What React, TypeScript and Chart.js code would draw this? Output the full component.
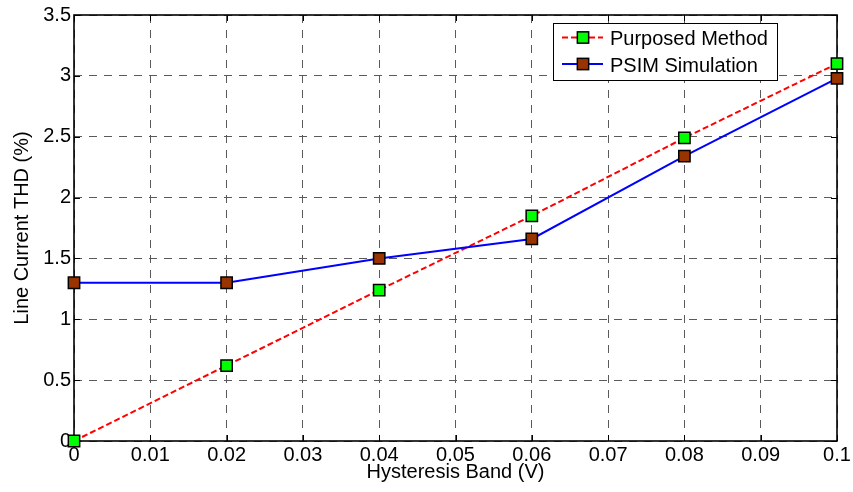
import React, { useEffect, useRef } from "react";
import { Chart, registerables } from "chart.js";

Chart.register(...registerables);

// ---- data ----
const hysteresisBand = [0, 0.02, 0.04, 0.06, 0.08, 0.1];
const purposedMethod = [0, 0.62, 1.24, 1.85, 2.49, 3.1];
const psimSimulation = [1.3, 1.3, 1.5, 1.66, 2.34, 2.98];
const seriesNames = ["Purposed Method", "PSIM Simulation"];

const xTickValues = [0, 0.01, 0.02, 0.03, 0.04, 0.05, 0.06, 0.07, 0.08, 0.09, 0.1];
const xTickLabels = ["0", "0.01", "0.02", "0.03", "0.04", "0.05", "0.06", "0.07", "0.08", "0.09", "0.1"];
const yTickValues = [0, 0.5, 1, 1.5, 2, 2.5, 3, 3.5];
const yTickLabels = ["0", "0.5", "1", "1.5", "2", "2.5", "3", "3.5"];

const xTitle = "Hysteresis Band (V)";
const yTitle = "Line Current THD (%)";

const FONT = "'Liberation Sans', Arial, Helvetica, sans-serif";

const boxPlugin = {
  id: "matlabBox",
  beforeDatasetsDraw(chart: any) {
    const { ctx, chartArea, scales } = chart;
    const { left, right, top, bottom } = chartArea;
    ctx.save();
    ctx.strokeStyle = "#000";
    ctx.lineWidth = 1;
    const L = 6;
    const line = (x1: number, y1: number, x2: number, y2: number) => {
      ctx.beginPath();
      ctx.moveTo(x1, y1);
      ctx.lineTo(x2, y2);
      ctx.stroke();
    };
    xTickValues.forEach((v) => {
      const px = Math.round(scales.x.getPixelForValue(v)) + 0.5;
      line(px, bottom, px, bottom - L);
      line(px, top, px, top + L);
    });
    yTickValues.forEach((v) => {
      const py = Math.round(scales.y.getPixelForValue(v)) + 0.5;
      line(left, py, left + L, py);
      line(right, py, right - L, py);
    });
    ctx.lineWidth = 1.6;
    ctx.strokeRect(left, top, right - left, bottom - top);
    ctx.restore();
  },
};

const legendPlugin = {
  id: "matlabLegend",
  afterDatasetsDraw(chart: any) {
    const { ctx, chartArea } = chart;
    const bx = chartArea.right - 284;
    const by = chartArea.top + 8;
    const bw = 224;
    const bh = 57;
    ctx.save();
    ctx.fillStyle = "#fff";
    ctx.fillRect(bx, by, bw, bh);
    ctx.strokeStyle = "#000";
    ctx.lineWidth = 1;
    ctx.strokeRect(bx + 0.5, by + 0.5, bw, bh);
    const entries = chart.data.datasets;
    const order = [1, 0];
    order.forEach((di, i) => {
      const ds = entries[di];
      const cy = by + 14.5 + i * 26.5;
      ctx.save();
      ctx.strokeStyle = ds.borderColor;
      ctx.lineWidth = ds.borderWidth;
      ctx.setLineDash(ds.borderDash || []);
      ctx.beginPath();
      ctx.moveTo(bx + 9, cy);
      ctx.lineTo(bx + 50, cy);
      ctx.stroke();
      ctx.restore();
      const s = 11.3;
      ctx.fillStyle = ds.pointBackgroundColor;
      ctx.fillRect(bx + 30 - s / 2, cy - s / 2, s, s);
      ctx.strokeStyle = "#000";
      ctx.lineWidth = 1.5;
      ctx.strokeRect(bx + 30 - s / 2, cy - s / 2, s, s);
      ctx.fillStyle = "#000";
      ctx.font = `20px ${FONT}`;
      ctx.textBaseline = "alphabetic";
      ctx.textAlign = "left";
      ctx.fillText(ds.label, bx + 57, cy + 7.5);
    });
    ctx.restore();
  },
};

export default function App() {
  const ref = useRef<HTMLCanvasElement>(null);

  useEffect(() => {
    if (!ref.current) return;
    const chart = new Chart(ref.current, {
      type: "line",
      data: {
        datasets: [
          {
            label: seriesNames[1],
            data: hysteresisBand.map((x, i) => ({ x, y: psimSimulation[i] })),
            borderColor: "#0000ff",
            borderWidth: 2,
            pointStyle: "rect",
            pointRadius: 8,
            pointBackgroundColor: "#993300",
            pointBorderColor: "#000",
            pointBorderWidth: 1.5,
            tension: 0,
            clip: false,
            order: 0,
          } as any,
          {
            label: seriesNames[0],
            data: hysteresisBand.map((x, i) => ({ x, y: purposedMethod[i] })),
            borderColor: "#ff0000",
            borderWidth: 2,
            borderDash: [6, 3],
            pointStyle: "rect",
            pointRadius: 8,
            pointBackgroundColor: "#00ff00",
            pointBorderColor: "#000",
            pointBorderWidth: 1.5,
            tension: 0,
            clip: false,
            order: 1,
          } as any,
        ],
      },
      options: {
        animation: false,
        responsive: false,
        maintainAspectRatio: false,
        devicePixelRatio: 1,
        layout: { padding: { top: 14, right: 16, left: 0, bottom: 0 } },
        plugins: {
          legend: { display: false },
          tooltip: { enabled: false },
        },
        scales: {
          x: {
            type: "linear",
            min: 0,
            max: 0.1,
            afterBuildTicks: (scale: any) => {
              scale.ticks = xTickValues.map((v) => ({ value: v }));
            },
            afterFit: (scale: any) => {
              scale.height = 51;
            },
            ticks: {
              padding: 2,
              color: "#000",
              font: { family: FONT, size: 20 },
              maxRotation: 0,
              autoSkip: false,
              callback: (_v: any, i: number) => xTickLabels[i],
            },
            grid: { color: "#5a5a5a", lineWidth: 1, drawTicks: false },
            border: { display: false, dash: [8, 7] },
            title: {
              display: true,
              text: xTitle,
              color: "#000",
              font: { family: FONT, size: 20 },
              padding: { top: 0, bottom: 8 },
            },
          },
          y: {
            type: "linear",
            min: 0,
            max: 3.5,
            afterBuildTicks: (scale: any) => {
              scale.ticks = yTickValues.map((v) => ({ value: v }));
            },
            afterFit: (scale: any) => {
              scale.width = 74;
            },
            ticks: {
              padding: 3,
              color: "#000",
              font: { family: FONT, size: 20 },
              autoSkip: false,
              callback: (_v: any, i: number) => yTickLabels[i],
            },
            grid: { color: "#5a5a5a", lineWidth: 1, drawTicks: false },
            border: { display: false, dash: [8, 7] },
            title: {
              display: true,
              text: yTitle,
              color: "#000",
              font: { family: FONT, size: 20 },
              padding: { top: 10, bottom: 0 },
            },
          },
        },
      },
      plugins: [boxPlugin, legendPlugin],
    } as any);
    return () => chart.destroy();
  }, []);

  return (
    <div style={{ position: "absolute", left: 0, top: 0, width: 853, height: 492, background: "#fff" }}>
      <canvas ref={ref} width={853} height={492} style={{ width: 853, height: 492, display: "block" }} />
    </div>
  );
}
